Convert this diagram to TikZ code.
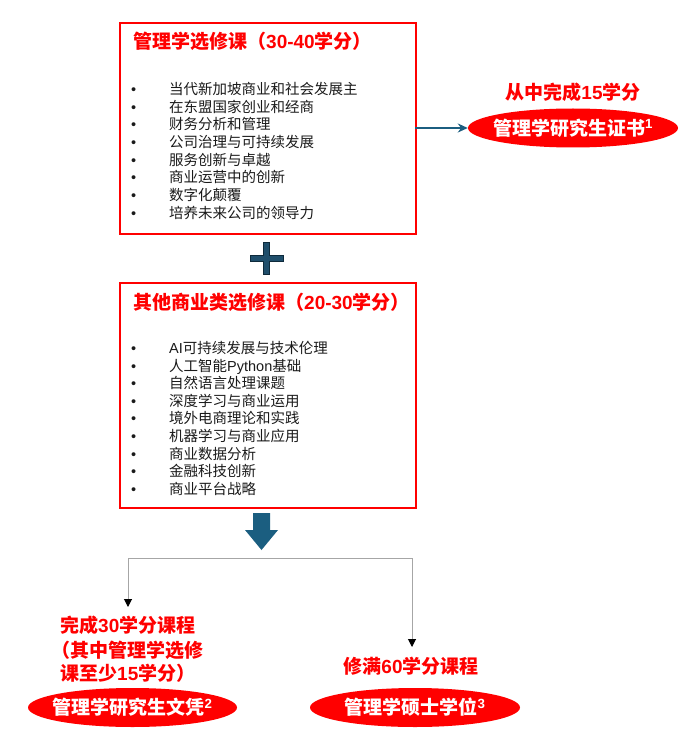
\documentclass[tikz,border=0pt]{standalone}
\usepackage{fontspec}
\setmainfont{Noto Sans CJK SC}
\newfontfamily\latfont{Liberation Sans}
\newcommand\lt[1]{{\latfont #1}}
\usetikzlibrary{arrows.meta,shapes.geometric}
\definecolor{myred}{HTML}{FF0000}
\definecolor{arrowblue}{HTML}{1B5E80}
\definecolor{plusfill}{HTML}{1F4E6B}
\definecolor{plusline}{HTML}{0E2A3B}
\definecolor{branchgray}{HTML}{A6A6A6}
\definecolor{itemtext}{HTML}{1A1A1A}
\tikzset{
  redbox/.style={draw=myred, line width=1.6pt, rectangle, anchor=north west, inner sep=0pt},
  boxtitle/.style={anchor=base west, inner sep=0pt, text=myred, font=\fontsize{19}{22}\selectfont\bfseries},
  item/.style={anchor=base west, inner sep=0pt, text=itemtext, font=\fontsize{14.5}{17}\selectfont},
  bulletmark/.style={anchor=base west, inner sep=0pt, text=itemtext, font=\fontsize{14.5}{17}\selectfont\latfont},
  redlabel/.style={inner sep=0pt, text=myred, font=\fontsize{19}{22}\selectfont\bfseries},
  pill/.style={ellipse, fill=myred, draw=none, inner sep=0pt, text=white, font=\fontsize{19}{22}\selectfont\bfseries},
  branch/.style={draw=branchgray, line width=1pt, {Triangle[black,width=8pt,length=8pt]}-{Triangle[black,width=8pt,length=8pt]}},
}
\begin{document}
\begin{tikzpicture}[x=1pt,y=-1pt]
\useasboundingbox (0,0) rectangle (690,735);
% box 1
\node[redbox, minimum width=296pt, minimum height=211pt] (box1) at (119,22) {};
\node[boxtitle] (t1) at (133,49) {管理学选修课（\lt{30-40}学分）};
\foreach \txt [count=\i from 0] in {当代新加坡商业和社会发展主,在东盟国家创业和经商,财务分析和管理,公司治理与可持续发展,服务创新与卓越,商业运营中的创新,数字化颠覆,培养未来公司的领导力}{
  \node[bulletmark] (b1\i) at (131,94.5+\i*17.7) {•};
  \node[item] (a1\i) at (169,94.5+\i*17.7) {\txt};
}
% plus
\draw[fill=plusfill, draw=plusline, line width=0.8pt]
  (250,255) -- (263.5,255) -- (263.5,242) -- (269.5,242) -- (269.5,255) -- (283,255)
  -- (283,261) -- (269.5,261) -- (269.5,274) -- (263.5,274) -- (263.5,261) -- (250,261) -- cycle;
% box 2
\node[redbox, minimum width=296pt, minimum height=225pt] (box2) at (119,282) {};
\node[boxtitle] (t2) at (133,309) {其他商业类选修课（\lt{20-30}学分）};
\foreach \txt [count=\i from 0] in {{\lt{AI}可持续发展与技术伦理},{人工智能\lt{Python}基础},自然语言处理课题,深度学习与商业运用,境外电商理论和实践,机器学习与商业应用,商业数据分析,金融科技创新,商业平台战略}{
  \node[bulletmark] (b2\i) at (131,353.5+\i*17.6) {•};
  \node[item] (a2\i) at (169,353.5+\i*17.6) {\txt};
}
% top right
\node[redlabel] (lab15) at (573,92) {从中完成\lt{15}学分};
\node[pill, minimum width=210pt, minimum height=39pt] (cert) at (573,128) {\makebox[0pt]{管理学研究生证书\textsuperscript{\lt{1}}}};
\coordinate (b1out) at (415,128);
\draw[arrowblue, line width=1.6pt, -{Stealth[length=10pt,width=9pt]}] (b1out) -- (cert.west);
% big down arrow
\fill[arrowblue] (253,513) -- (270,513) -- (270,530) -- (278,530) -- (261.5,550) -- (245,530) -- (253,530) -- cycle;
% branches
\coordinate (tl) at (128,607);
\coordinate (jr) at (412,558);
\coordinate (tr) at (412,647);
\draw[branch] (tl) |- (jr) -- (tr);
% bottom left
\node[redlabel, anchor=base west] (l1) at (60,632) {完成\lt{30}学分课程};
\node[redlabel, anchor=base west] (l2) at (51,657) {（其中管理学选修};
\node[redlabel, anchor=base west] (l3) at (60,680) {课至少\lt{15}学分）};
\node[pill, minimum width=209pt, minimum height=39pt] (dip) at (132.5,707.5) {\makebox[0pt]{管理学研究生文凭\textsuperscript{\lt{2}}}};
% bottom right
\node[redlabel] (l4) at (411,666) {修满\lt{60}学分课程};
\node[pill, minimum width=210pt, minimum height=39pt] (msc) at (415,707.5) {\makebox[0pt]{管理学硕士学位\textsuperscript{\lt{3}}}};
\end{tikzpicture}
\end{document}
